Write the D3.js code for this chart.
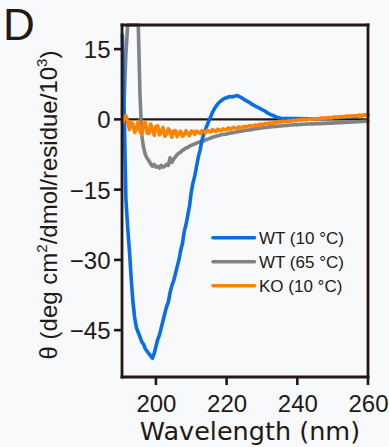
<!DOCTYPE html>
<html>
<head>
<meta charset="utf-8">
<script src="https://cdn.jsdelivr.net/npm/d3@7"></script>
<style>
  html, body { margin: 0; padding: 0; background: #f8f9fa; }
  svg { display: block; }
</style>
</head>
<body>
<svg id="chart" width="389" height="447"></svg>
<script>
// ---- data ----
const wlStart = 190.5, wlStep = 0.5;           // wavelength grid (nm)
const xTicks = [200, 220, 240, 260];
const yTicks = [15, 0, -15, -30, -45];
const seriesNames = ["WT (10 °C)", "WT (65 °C)", "KO (10 °C)"];
const seriesColors = ["#0a6de8", "#828282", "#ff8200"];

const wt10 = [
  18, 2, -17, -23, -28, -34, -39, -42.5, -44.5, -45.5,
  -46.5, -47.5, -48, -49, -49.5, -50, -50.5, -51, -50, -48.5,
  -47, -46, -44.5, -43, -41.5, -40, -39, -37, -35.5, -34.5,
  -33, -31.5, -30, -28, -26.5, -24, -22.5, -20.5, -18.5, -15.5,
  -13.5, -12, -10, -8, -6.5, -4.5, -3.2, -2.2, -1.2, -0.3,
  0.6, 1.5, 2.2, 2.8, 3.3, 3.7, 4.0, 4.3, 4.5, 4.6,
  4.8, 4.9, 4.8, 4.9, 5.0, 5.1, 4.9, 4.7, 4.5, 4.2,
  4.0, 3.8, 3.6, 3.3, 3.1, 2.9, 2.7, 2.5, 2.3, 2.1,
  1.9, 1.7, 1.4, 1.2, 1.0, 0.9, 0.7, 0.5, 0.4, 0.3,
  0.2, 0.2, 0.2, 0.2, 0.2, 0.2, 0.2, 0.2, 0.2, 0.2,
  0.2, 0.1, 0.1, 0.1, 0.1, 0.1, 0.1, 0.1, 0.1, 0.1,
  0.1, 0.1, 0.2, 0.2, 0.2, 0.2, 0.3, 0.3, 0.3, 0.3,
  0.4, 0.4, 0.4, 0.4, 0.5, 0.5, 0.5, 0.5, 0.6, 0.6,
  0.6, 0.7, 0.7, 0.7, 0.8, 0.8, 0.8, 0.9, 0.9, 0.9
];
const wt65 = [
  1.5, 4, 14, 26, 34, 38, 38, 36, 30, 21,
  5, -3.5, -6, -7.5, -8.3, -8.8, -9.5, -10, -9.6, -10.2,
  -10, -10.4, -9.8, -10.2, -10, -9.6, -9.8, -8.2, -9.2, -8.5,
  -8, -7.5, -7.2, -7, -6.6, -6.4, -6.1, -6, -5.7, -5.5,
  -5.4, -5.2, -5.1, -4.9, -4.8, -4.7, -4.6, -4.4, -4.3, -4.1,
  -4.0, -3.8, -3.7, -3.6, -3.5, -3.4, -3.3, -3.2, -3.2, -3.1,
  -3.0, -2.9, -2.9, -2.8, -2.7, -2.7, -2.6, -2.5, -2.5, -2.4,
  -2.3, -2.3, -2.2, -2.2, -2.1, -2.0, -2.0, -1.9, -1.9, -1.8,
  -1.8, -1.7, -1.7, -1.6, -1.6, -1.55, -1.5, -1.5, -1.45, -1.4,
  -1.4, -1.35, -1.3, -1.3, -1.25, -1.2, -1.2, -1.15, -1.15, -1.15,
  -1.1, -1.1, -1.05, -1.05, -1.0, -1.0, -1.0, -0.95, -0.95, -0.95,
  -0.9, -0.9, -0.9, -0.85, -0.85, -0.85, -0.8, -0.8, -0.8, -0.8,
  -0.75, -0.75, -0.7, -0.7, -0.7, -0.65, -0.65, -0.6, -0.6, -0.6,
  -0.55, -0.55, -0.5, -0.5, -0.5, -0.45, -0.45, -0.4, -0.4, -0.4
];
const ko10 = [
  -0.8, 0.3, 0.8, -0.6, -2.2, -0.5, -1.0, -2.8, -2.0, -0.4,
  -2.6, -3.2, -1.0, -0.6, -2.9, -3.0, -1.0, -2.2, -3.4, -1.5,
  -1.4, -3.3, -2.6, -1.7, -3.6, -3.2, -2.0, -2.6, -3.8, -2.5,
  -2.4, -3.7, -3.0, -2.5, -3.6, -3.3, -2.4, -3.0, -3.5, -2.5,
  -2.6, -3.2, -2.5, -2.8, -3.0, -2.4, -2.6, -2.9, -2.3, -2.6,
  -2.7, -2.2, -2.4, -2.6, -2.1, -2.3, -2.4, -2.0, -2.2, -2.2,
  -1.8, -2.1, -2.0, -1.7, -1.9, -1.9, -1.6, -1.8, -1.7, -1.5,
  -1.6, -1.5, -1.3, -1.5, -1.4, -1.2, -1.3, -1.2, -1.0, -1.2,
  -1.0, -0.9, -1.0, -0.8, -0.8, -0.9, -0.6, -0.7, -0.6, -0.5,
  -0.6, -0.4, -0.5, -0.5, -0.3, -0.4, -0.3, -0.2, -0.3, -0.2,
  -0.1, -0.2, -0.1, 0.0, -0.1, 0.0, 0.1, 0.0, 0.1, 0.1,
  0.2, 0.1, 0.2, 0.3, 0.2, 0.3, 0.3, 0.4, 0.3, 0.4,
  0.5, 0.4, 0.5, 0.5, 0.6, 0.5, 0.6, 0.7, 0.6, 0.7,
  0.7, 0.8, 0.7, 0.8, 0.9, 0.8, 0.9, 1.0, 0.9, 1.1
];

// ---- layout ----
const svg = d3.select("#chart");
const pL = 122, pR = 368, pT = 25, pB = 377;
const ink = "#231815";

const x = d3.scaleLinear().domain([190.4, 260]).range([pL, pR]);
// clamp keeps off-scale values on the plot edge (no clip path needed)
const y = d3.scaleLinear().domain([-55, 20.15]).range([pB, pT]).clamp(true);

svg.append("rect").attr("width", 389).attr("height", 447).attr("fill", "#f8f9fa");

// zero line
svg.append("line")
  .attr("x1", pL).attr("x2", pR).attr("y1", y(0)).attr("y2", y(0))
  .attr("stroke", ink).attr("stroke-width", 2.2);

// series (gray, blue, orange on top)
const order = [1, 0, 2];
const data = [wt10, wt65, ko10];
const lineGen = d3.line()
  .x((d, i) => x(wlStart + i * wlStep))
  .y(d => y(d));

const plotG = svg.append("g");
order.forEach(k => {
  plotG.append("path")
    .datum(data[k])
    .attr("d", lineGen)
    .attr("fill", "none")
    .attr("stroke", seriesColors[k])
    .attr("stroke-width", 3.6)
    .attr("stroke-linejoin", "round")
    .attr("stroke-linecap", "round");
});

// frame
const frameG = svg.append("g");
[[pL, pT, pR, pT], [pR, pT, pR, pB], [pR, pB, pL, pB], [pL, pB, pL, pT]].forEach(s => {
  frameG.append("line")
    .attr("x1", s[0]).attr("y1", s[1]).attr("x2", s[2]).attr("y2", s[3])
    .attr("stroke", ink).attr("stroke-width", 2.8).attr("stroke-linecap", "square");
});

// tick marks through the scales
yTicks.forEach(v => {
  frameG.append("line")
    .attr("x1", pL - 8).attr("x2", pL).attr("y1", y(v)).attr("y2", y(v))
    .attr("stroke", ink).attr("stroke-width", 2.6);
});
xTicks.forEach(v => {
  frameG.append("line")
    .attr("x1", x(v)).attr("x2", x(v)).attr("y1", pB).attr("y2", pB + 8)
    .attr("stroke", ink).attr("stroke-width", 2.6);
});

// tick labels via d3 axes
const yg = svg.append("g").attr("transform", `translate(${pL},0)`)
  .call(d3.axisLeft(y).tickValues(yTicks).tickSize(0).tickFormat(d3.format("d")));
yg.select(".domain").remove();
yg.selectAll(".tick line").remove();
yg.selectAll(".tick text")
  .attr("x", -11.5)
  .attr("dy", "0.35em")
  .attr("fill", ink)
  .style("font-family", "'Liberation Sans', Arial, sans-serif")
  .style("font-size", "24px");

const xg = svg.append("g").attr("transform", `translate(0,${pB})`)
  .call(d3.axisBottom(x).tickValues(xTicks).tickSize(0).tickFormat(d3.format("d")));
xg.select(".domain").remove();
xg.selectAll(".tick line").remove();
xg.selectAll(".tick text")
  .attr("y", 34.5)
  .attr("dy", 0)
  .attr("fill", ink)
  .style("font-family", "'Liberation Sans', Arial, sans-serif")
  .style("font-size", "24px");

// x label
svg.append("text")
  .attr("x", 250).attr("y", 439.5)
  .attr("text-anchor", "middle")
  .attr("fill", ink)
  .style("font-family", "'DejaVu Sans', Verdana, sans-serif")
  .style("font-size", "25.5px")
  .text("Wavelength (nm)");

// y label
const yl = svg.append("text")
  .attr("transform", "translate(57,205) rotate(-90)")
  .attr("text-anchor", "middle")
  .attr("fill", ink)
  .style("font-family", "'Liberation Sans', Arial, sans-serif")
  .style("font-size", "24px");
yl.append("tspan").text("θ (deg cm");
yl.append("tspan").attr("dy", -10).style("font-size", "15px").text("2");
yl.append("tspan").attr("dy", 10).text("/dmol/residue/10");
yl.append("tspan").attr("dy", -10).style("font-size", "15px").text("3");
yl.append("tspan").attr("dy", 10).text(")");

// panel letter
svg.append("text")
  .attr("x", 3).attr("y", 40)
  .attr("fill", ink)
  .style("font-family", "'Liberation Sans', Arial, sans-serif")
  .style("font-size", "44px")
  .text("D");

// legend
const legY = [237.7, 261.7, 285.7];
const leg = svg.append("g");
seriesNames.forEach((name, i) => {
  leg.append("line")
    .attr("x1", 213).attr("x2", 254.5)
    .attr("y1", legY[i]).attr("y2", legY[i])
    .attr("stroke", seriesColors[i]).attr("stroke-width", 3.6)
    .attr("stroke-linecap", "round");
  leg.append("text")
    .attr("x", 259).attr("y", legY[i] + 6.2)
    .attr("fill", ink)
    .style("font-family", "'Liberation Sans', Arial, sans-serif")
    .style("font-size", "17px")
    .text(name);
});
</script>
</body>
</html>
